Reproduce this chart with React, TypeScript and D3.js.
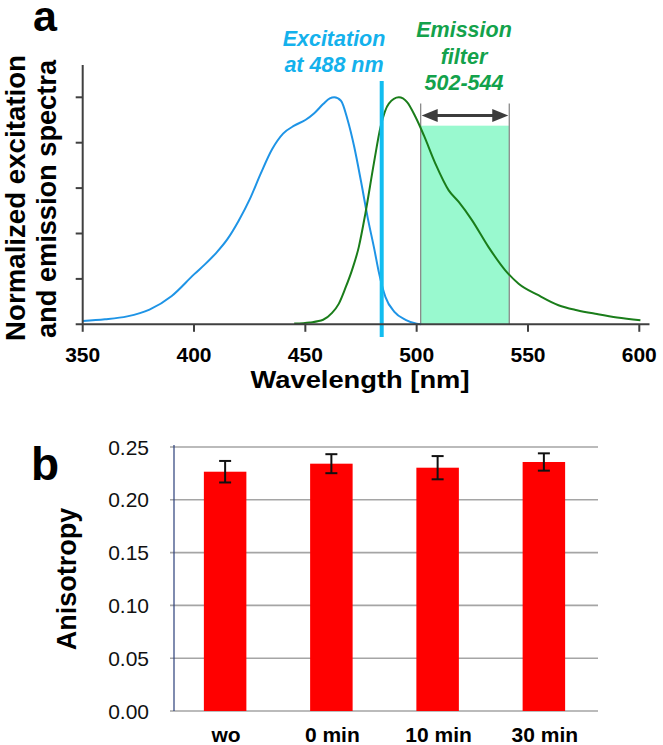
import React from "react";
import * as d3 from "d3";

// ---------- Panel a data ----------
const wavelengthTicks = [350, 400, 450, 500, 550, 600];
const spectrumTicks = [0, 0.2, 0.4, 0.6, 0.8, 1.0];
const excitationSpectrum: [number, number][] = [
  [350, 0.015], [360, 0.022], [370, 0.035], [380, 0.065], [390, 0.125], [400, 0.22],
  [405, 0.265], [410, 0.315], [415, 0.375], [420, 0.455], [425, 0.55], [430, 0.665],
  [435, 0.77], [440, 0.84], [445, 0.875], [450, 0.9], [454, 0.93], [458, 0.97],
  [461, 0.995], [463, 1.0], [466, 0.985], [469, 0.9], [472, 0.78], [475, 0.63],
  [478, 0.47], [481, 0.33], [483, 0.23], [486, 0.12], [490, 0.055], [495, 0.02],
  [500, 0.003], [502, 0],
];
const emissionSpectrum: [number, number][] = [
  [445, 0.003], [452, 0.008], [458, 0.02], [462, 0.05], [465, 0.09], [468, 0.16],
  [471, 0.24], [474, 0.34], [477, 0.49], [480.8, 0.71], [483.8, 0.87], [487.5, 0.972],
  [492, 1.0], [495.7, 0.979], [499.5, 0.913], [503.2, 0.833], [508.4, 0.708],
  [514.4, 0.59], [518.9, 0.539], [524.9, 0.458], [532.3, 0.34], [539.8, 0.238],
  [545.8, 0.179], [554.7, 0.128], [563.7, 0.084], [572, 0.062], [581, 0.045],
  [590, 0.03], [600.5, 0.018],
];
const excitationLine = 484.3;
const filterRange = [501.8, 541.6];
const filterTop = 0.875;
const arrowLevel = 0.92;
const filterEdgeTop = 0.97;
const excitationLabel = ["Excitation", "at 488 nm"];
const emissionLabel = ["Emission", "filter", "502-544"];

// ---------- Panel b data ----------
const categories = ["wo", "0 min", "10 min", "30 min"];
const anisotropy = [0.2266, 0.2342, 0.2304, 0.2358];
const anisotropyErr = [0.0102, 0.009, 0.011, 0.0082];
const anisotropyTicks = [0, 0.05, 0.1, 0.15, 0.2, 0.25];

const FONT = "'Liberation Sans', Arial, Helvetica, sans-serif";

export default function App() {
  // Panel a scales
  const xa = d3.scaleLinear().domain([350, 600]).range([82.7, 639.3]);
  const ya = d3.scaleLinear().domain([0, 1]).range([324.3, 97.3]);
  const line = d3
    .line<[number, number]>()
    .x((d) => xa(d[0]))
    .y((d) => ya(d[1]))
    .curve(d3.curveMonotoneX);

  // Panel b scales
  const xb = d3.scaleBand<string>().domain(categories).range([172, 597]).paddingInner(0.6).paddingOuter(0.3);
  const yb = d3.scaleLinear().domain([0, 0.25]).range([711, 447]);

  const axisColor = "#404040";
  const fx0 = xa(filterRange[0]);
  const fx1 = xa(filterRange[1]);
  const ay = ya(arrowLevel);

  return (
    <div style={{ position: "absolute", left: 0, top: 0 }}>
      <svg width={663} height={745} style={{ display: "block", background: "#fff" }} fontFamily={FONT}>
        {/* ================= Panel a ================= */}
        <text x={33} y={31} fontSize={43} fontWeight="bold" fill="#000">a</text>

        {/* Filter band */}
        <rect x={fx0} y={ya(filterTop)} width={fx1 - fx0} height={ya(0) - ya(filterTop)} fill="#99f9cf" />
        <line x1={fx0} x2={fx0} y1={ya(filterEdgeTop) - 0.5} y2={ya(0)} stroke="#8a8a8a" strokeWidth={1.3} />
        <line x1={fx1} x2={fx1} y1={ya(filterEdgeTop) - 0.5} y2={ya(0)} stroke="#8a8a8a" strokeWidth={1.3} />

        {/* Arrow */}
        <line x1={fx0 + 14} x2={fx1 - 14} y1={ay} y2={ay} stroke="#3c3c3c" strokeWidth={3} />
        <path d={`M${fx0 + 1},${ay} L${fx0 + 17},${ay - 6.5} L${fx0 + 17},${ay + 6.5} Z`} fill="#3c3c3c" />
        <path d={`M${fx1 - 1},${ay} L${fx1 - 17},${ay - 6.5} L${fx1 - 17},${ay + 6.5} Z`} fill="#3c3c3c" />

        {/* Spectra */}
        <path d={line(excitationSpectrum) || ""} fill="none" stroke="#1e94e6" strokeWidth={2} />
        <path d={line(emissionSpectrum) || ""} fill="none" stroke="#1a7d1a" strokeWidth={2} />

        {/* Excitation line */}
        <line x1={xa(excitationLine)} x2={xa(excitationLine)} y1={81} y2={337} stroke="#12bdf0" strokeWidth={4} />

        {/* Axes */}
        <line x1={xa(350)} x2={xa(350)} y1={65} y2={ya(0)} stroke={axisColor} strokeWidth={2} />
        {spectrumTicks.slice(1).map((t) => (
          <line key={t} x1={xa(350) - 7} x2={xa(350)} y1={ya(t)} y2={ya(t)} stroke={axisColor} strokeWidth={2} />
        ))}
        <line x1={xa(350) - 7} x2={649.5} y1={ya(0)} y2={ya(0)} stroke={axisColor} strokeWidth={2} />
        {wavelengthTicks.map((t) => (
          <g key={t}>
            <line x1={xa(t)} x2={xa(t)} y1={ya(0)} y2={ya(0) + 7.5} stroke={axisColor} strokeWidth={2} />
            <text x={xa(t)} y={361.5} fontSize={21} fontWeight="bold" textAnchor="middle" fill="#000">{t}</text>
          </g>
        ))}
        <text x={360} y={388} fontSize={24} fontWeight="bold" textAnchor="middle" fill="#000" textLength={219} lengthAdjust="spacingAndGlyphs">Wavelength [nm]</text>

        {/* Y label */}
        <text transform="translate(24.5,198) rotate(-90)" fontSize={27} fontWeight="bold" textAnchor="middle" fill="#000" textLength={286} lengthAdjust="spacingAndGlyphs">Normalized excitation</text>
        <text transform="translate(56,199) rotate(-90)" fontSize={27} fontWeight="bold" textAnchor="middle" fill="#000" textLength={278} lengthAdjust="spacingAndGlyphs">and emission spectra</text>

        {/* Annotations */}
        {excitationLabel.map((s, i) => (
          <text key={s} x={334} y={45.7 + i * 26} fontSize={21.5} fontWeight="bold" fontStyle="italic" textAnchor="middle" fill="#14b1ec">{s}</text>
        ))}
        {emissionLabel.map((s, i) => (
          <text key={s} x={464} y={37.3 + i * 26.4} fontSize={21.5} fontWeight="bold" fontStyle="italic" textAnchor="middle" fill="#13a24b">{s}</text>
        ))}

        {/* ================= Panel b ================= */}
        <text x={31} y={480} fontSize={46} fontWeight="bold" fill="#000">b</text>

        {anisotropyTicks.map((t) => (
          <g key={t}>
            <line x1={170} x2={598} y1={yb(t)} y2={yb(t)} stroke="#a5a5a5" strokeWidth={1.6} />
            <text x={149} y={yb(t)} dy="0.36em" fontSize={21} textAnchor="end" fill="#111">{t.toFixed(2)}</text>
          </g>
        ))}
        <line x1={174} x2={174} y1={445} y2={yb(0)} stroke="#2a3f7a" strokeWidth={1.2} />

        {categories.map((c, i) => {
          const x0 = xb(c) as number;
          const w = xb.bandwidth();
          const cx = x0 + w / 2;
          const v = anisotropy[i];
          const e = anisotropyErr[i];
          return (
            <g key={c}>
              <rect x={x0} y={yb(v)} width={w} height={yb(0) - yb(v)} fill="#ff0000" />
              <line x1={cx} x2={cx} y1={yb(v + e)} y2={yb(v - e)} stroke="#111" strokeWidth={2} />
              <line x1={cx - 6} x2={cx + 6} y1={yb(v + e)} y2={yb(v + e)} stroke="#111" strokeWidth={2} />
              <line x1={cx - 6} x2={cx + 6} y1={yb(v - e)} y2={yb(v - e)} stroke="#111" strokeWidth={2} />
              <text x={cx + 1} y={741.5} fontSize={21} fontWeight="bold" textAnchor="middle" fill="#000">{c}</text>
            </g>
          );
        })}

        <text transform="translate(76,579) rotate(-90)" fontSize={27} fontWeight="bold" textAnchor="middle" fill="#000">Anisotropy</text>
      </svg>
    </div>
  );
}
